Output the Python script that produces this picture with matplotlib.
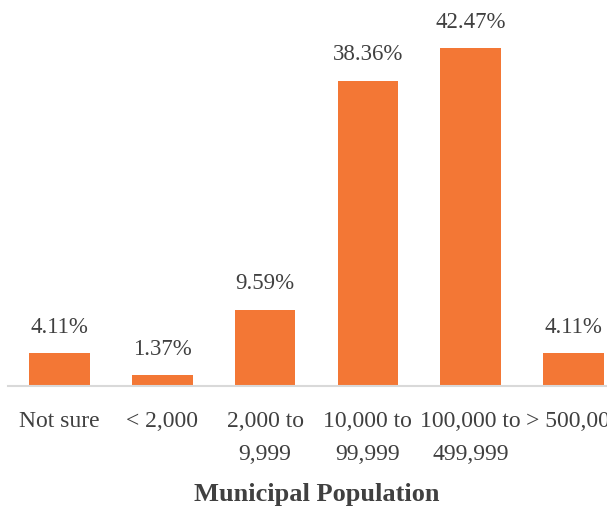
import matplotlib
matplotlib.use("Agg")
import matplotlib.pyplot as plt

categories = ["Not sure", "< 2,000", "2,000 to\n9,999", "10,000 to\n99,999",
              "100,000 to\n499,999", "> 500,000"]
values = [4.11, 1.37, 9.59, 38.36, 42.47, 4.11]
value_labels = ["4.11%", "1.37%", "9.59%", "38.36%", "42.47%", "4.11%"]

bar_color = "#F37735"
text_color = "#404040"

plt.rcParams["font.family"] = ["Liberation Serif", "DejaVu Serif"]

fig = plt.figure(figsize=(6.07, 5.08), dpi=100)
ax = fig.add_axes([8 / 607, 1 - 386 / 508, 617 / 607, 386 / 508])
ax.patch.set_alpha(0)

x = list(range(len(categories)))
ax.bar(x, values, width=0.59, color=bar_color, zorder=2)

for xi, v, lab in zip(x, values, value_labels):
    ax.annotate(lab, (xi, v), xytext=(0, 11), textcoords="offset points",
                ha="center", va="bottom", fontsize=16.5, color=text_color,
                annotation_clip=False)

ax.set_xlim(-0.5, 5.5)
ax.set_ylim(0, 48.5)
ax.set_yticks([])
ax.set_xticks(x)
ax.set_xticklabels(categories, fontsize=17, color=text_color, linespacing=1.75)
ax.tick_params(axis="x", length=0, pad=18)
for side in ["top", "right", "left"]:
    ax.spines[side].set_visible(False)
ax.spines["bottom"].set_color("#D9D9D9")
ax.spines["bottom"].set_linewidth(1.5)

ax.set_xlabel("Municipal Population", fontsize=19, fontweight="bold",
              color=text_color, labelpad=13)

fig.savefig("out.png", dpi=100)
